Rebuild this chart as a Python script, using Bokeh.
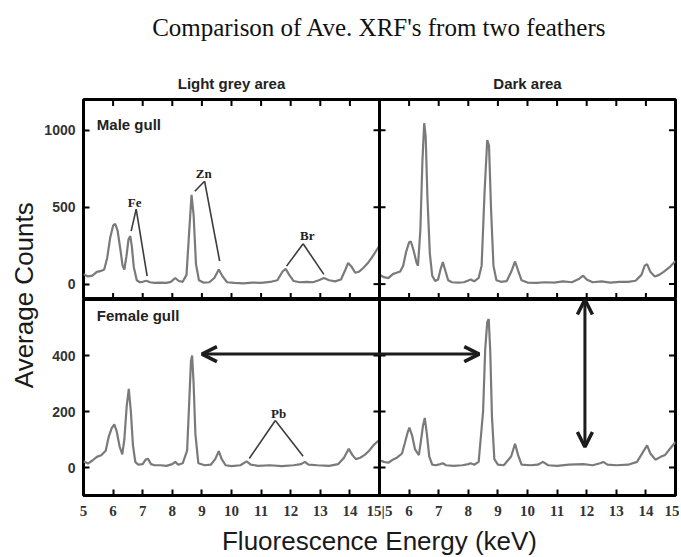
import math
from bokeh.plotting import figure
from bokeh.models import Range1d, LinearAxis, FixedTicker, Span, Arrow, OpenHead, Label
from bokeh.layouts import row, column
from bokeh.embed import file_html
from bokeh.resources import INLINE

# ---------------- data ----------------
TITLE = "Comparison of Ave. XRF's from two feathers"
COLUMN_TITLES = ["Light grey area", "Dark area"]
ROW_TITLES = ["Male gull", "Female gull"]
X_LABEL = "Fluorescence Energy (keV)"
Y_LABEL = "Average Counts"

energy_ticks = [5, 6, 7, 8, 9, 10, 11, 12, 13, 14, 15]
energy_tick_labels = ["5", "6", "7", "8", "9", "10", "11", "12", "13", "14", "15"]
male_count_ticks = [0, 500, 1000]
female_count_ticks = [0, 200, 400]

# Male gull, light grey area
male_light_x = [5.0, 5.15, 5.3, 5.45, 5.57, 5.7, 5.8, 5.9, 6.0, 6.07, 6.15, 6.25, 6.32, 6.38, 6.45,
                6.52, 6.58, 6.63, 6.7, 6.8, 6.9, 7.0, 7.12, 7.25, 7.4, 7.6, 7.8, 7.95, 8.1, 8.22,
                8.35, 8.48, 8.57, 8.65, 8.72, 8.8, 8.9, 9.05, 9.25, 9.42, 9.57, 9.7, 9.85, 10.1, 10.4,
                10.7, 11.0, 11.3, 11.55, 11.72, 11.83, 11.95, 12.1, 12.3, 12.55, 12.75, 12.95, 13.12, 13.3, 13.5,
                13.7, 13.85, 13.94, 14.05, 14.18, 14.3, 14.45, 14.6, 14.75, 14.9, 15.0]
male_light_y = [65, 50, 55, 80, 84, 95, 170, 300, 380, 392, 350, 220, 120, 95, 180,
                290, 312, 250, 110, 25, 12, 15, 22, 12, 8, 10, 8, 15, 40, 20,
                15, 60, 340, 580, 450, 130, 25, 10, 12, 40, 95, 50, 12, 8, 5,
                10, 8, 14, 25, 80, 100, 60, 20, 12, 15, 12, 25, 40, 25, 18,
                30, 95, 138, 115, 74, 80, 105, 135, 175, 220, 250]

# Male gull, dark area
male_dark_x = [5.0, 5.15, 5.3, 5.45, 5.55, 5.7, 5.8, 5.9, 6.0, 6.06, 6.15, 6.25, 6.3, 6.38, 6.45,
               6.51, 6.56, 6.62, 6.7, 6.78, 6.88, 6.98, 7.06, 7.14, 7.22, 7.32, 7.45, 7.65, 7.85, 7.98,
               8.08, 8.2, 8.35, 8.45, 8.55, 8.64, 8.7, 8.77, 8.85, 8.95, 9.1, 9.3, 9.45, 9.58, 9.68,
               9.8, 10.0, 10.3, 10.6, 10.9, 11.2, 11.5, 11.75, 11.88, 12.0, 12.2, 12.5, 12.8, 13.1, 13.4,
               13.65, 13.85, 13.96, 14.04, 14.15, 14.3, 14.45, 14.6, 14.8, 15.0]
male_dark_y = [61, 45, 39, 65, 72, 82, 120, 210, 272, 277, 220, 140, 120, 350, 800,
               1046, 960, 560, 200, 55, 20, 30, 95, 143, 90, 25, 12, 10, 12, 22,
               30, 18, 40, 120, 600, 937, 900, 480, 120, 25, 15, 20, 80, 147, 90,
               25, 10, 8, 12, 10, 18, 12, 35, 55, 30, 12, 18, 10, 14, 15,
               22, 60, 120, 130, 80, 50, 60, 80, 110, 150]

# Female gull, light grey area
female_light_x = [5.0, 5.15, 5.3, 5.45, 5.6, 5.75, 5.85, 5.95, 6.04, 6.12, 6.22, 6.31, 6.38, 6.46, 6.53,
                  6.6, 6.67, 6.75, 6.85, 7.0, 7.1, 7.18, 7.28, 7.4, 7.6, 7.8, 8.0, 8.1, 8.2, 8.35,
                  8.5, 8.57, 8.63, 8.67, 8.72, 8.78, 8.88, 9.1, 9.3, 9.45, 9.57, 9.67, 9.8, 10.0, 10.3,
                  10.51, 10.65, 10.9, 11.3, 11.7, 12.1, 12.35, 12.48, 12.6, 12.9, 13.3, 13.6, 13.8, 13.96, 14.08,
                  14.2, 14.35, 14.5, 14.65, 14.8, 15.0]
female_light_y = [22, 14, 25, 38, 44, 60, 109, 140, 154, 130, 75, 47, 100, 220, 281,
                  200, 80, 20, 10, 12, 28, 31, 12, 8, 8, 6, 12, 20, 10, 15,
                  60, 230, 380, 400, 300, 120, 15, 8, 10, 30, 58, 30, 8, 5, 8,
                  22, 10, 6, 8, 5, 8, 12, 20, 10, 8, 6, 12, 35, 67, 45,
                  30, 35, 45, 60, 80, 99]

# Female gull, dark area
female_dark_x = [5.0, 5.15, 5.3, 5.45, 5.6, 5.76, 5.85, 5.95, 6.01, 6.1, 6.2, 6.33, 6.4, 6.47, 6.53,
                 6.6, 6.68, 6.78, 6.9, 7.05, 7.14, 7.25, 7.5, 7.8, 8.0, 8.08, 8.2, 8.35, 8.5, 8.57,
                 8.64, 8.69, 8.74, 8.8, 8.88, 9.0, 9.2, 9.45, 9.58, 9.68, 9.8, 10.1, 10.35, 10.52, 10.7,
                 11.0, 11.4, 11.88, 12.2, 12.45, 12.56, 12.7, 13.0, 13.4, 13.7, 13.9, 14.04, 14.15, 14.32, 14.5,
                 14.65, 14.8, 15.0]
female_dark_y = [26, 20, 17, 28, 36, 50, 85, 125, 142, 115, 65, 44, 95, 150, 177,
                 120, 40, 10, 8, 12, 15, 8, 6, 8, 12, 15, 10, 20, 200, 420,
                 520, 530, 420, 180, 30, 10, 8, 40, 85, 45, 10, 8, 10, 20, 8,
                 6, 10, 12, 8, 15, 20, 10, 8, 10, 20, 55, 79, 50, 28, 38,
                 45, 65, 91]

# ---------------- layout / style ----------------
DARK_SHIFT = 10          # the dark-area panel sits 10 keV to the right on the shared frame
FRAME_W = 592
SPEC_COLOR = "#7a7a7a"
INK = "#1c1c1c"
CALLOUT = "#3c3c3c"
SANS = "Liberation Sans"
SERIF = "Liberation Serif"

X_LO = energy_ticks[0]
X_HI = energy_ticks[-1] + DARK_SHIFT
all_x_ticks = energy_ticks + [t + DARK_SHIFT for t in energy_ticks[1:]]
x_overrides = {t: s for t, s in zip(energy_ticks, energy_tick_labels)}
x_overrides.update({t + DARK_SHIFT: s for t, s in zip(energy_ticks[1:], energy_tick_labels[1:])})
x_overrides[energy_ticks[-1]] = energy_tick_labels[-1] + "|" + energy_tick_labels[0]
panel_centres = [(energy_ticks[0] + energy_ticks[-1]) / 2,
                 (energy_ticks[0] + energy_ticks[-1]) / 2 + DARK_SHIFT]


def edge_ticks(p, xs, ys, vertical):
    # inward tick marks on a frame edge (half of each dash is clipped by the frame)
    p.scatter(x=xs, y=ys, marker="dash", size=13, angle=math.pi / 2 if vertical else 0,
              line_color="black", line_width=2)


def make_panel(frame_h, y_lo, y_hi, count_ticks, top):
    p = figure(frame_width=FRAME_W, frame_height=frame_h,
               x_range=Range1d(X_LO, X_HI), y_range=Range1d(y_lo, y_hi),
               output_backend="svg", toolbar_location=None,
               x_axis_location=None, y_axis_location=None,
               min_border_left=43, min_border_right=4,
               min_border_top=99 if top else 0, min_border_bottom=0 if top else 58,
               background_fill_color="white", border_fill_color="white")
    p.extra_x_ranges = {"dark": Range1d(X_LO - DARK_SHIFT, X_HI - DARK_SHIFT)}
    p.outline_line_color = "black"
    p.outline_line_width = 3
    p.outline_line_alpha = 1
    p.grid.grid_line_color = None

    left = LinearAxis(ticker=FixedTicker(ticks=count_ticks))
    left.axis_line_color = None
    left.major_tick_line_color = "black"
    left.major_tick_line_width = 2
    left.major_tick_in = 6
    left.major_tick_out = 0
    left.minor_tick_line_color = None
    left.major_label_text_font = SANS
    left.major_label_text_font_style = "bold"
    left.major_label_text_font_size = "14px"
    left.major_label_text_color = "#333333"
    left.major_label_standoff = 8
    p.add_layout(left, "left")

    # right edge and divider tick marks
    edge_ticks(p, X_HI, count_ticks, vertical=False)
    p.add_layout(Span(location=energy_ticks[-1], dimension="height",
                      line_color="black", line_width=3))
    p.scatter(x=energy_ticks[-1], y=count_ticks, marker="dash", size=12,
              line_color="black", line_width=2)
    return p


def callout(p, name, label_xy, apex, ends):
    p.add_layout(Label(x=label_xy[0], y=label_xy[1], text=name, text_align="center", text_baseline="middle",
                       text_font=SERIF, text_font_style="bold", text_font_size="13px", text_color="#222222"))
    for ex, ey in ends:
        p.add_layout(Arrow(end=None, x_start=apex[0], y_start=apex[1], x_end=ex, y_end=ey,
                           line_color=CALLOUT, line_width=1.6))


# ---------------- top row: male gull ----------------
p1 = make_panel(200, -100, 1200, male_count_ticks, top=True)
edge_ticks(p1, all_x_ticks, 1200, vertical=True)
edge_ticks(p1, all_x_ticks, -100, vertical=True)

heads = LinearAxis(ticker=FixedTicker(ticks=panel_centres))
heads.major_label_overrides = {c: t for c, t in zip(panel_centres, COLUMN_TITLES)}
heads.axis_line_color = None
heads.major_tick_line_color = None
heads.major_tick_in = 0
heads.major_tick_out = 0
heads.minor_tick_line_color = None
heads.major_label_text_font = SANS
heads.major_label_text_font_style = "bold"
heads.major_label_text_font_size = "15px"
heads.major_label_text_color = "#222222"
heads.major_label_standoff = 8
heads.axis_label = TITLE
heads.axis_label_text_font = SERIF
heads.axis_label_text_font_style = "normal"
heads.axis_label_text_font_size = "25px"
heads.axis_label_text_color = "#111111"
heads.axis_label_standoff = 31
p1.add_layout(heads, "above")

p1.line(male_light_x, male_light_y, line_color=SPEC_COLOR, line_width=2.2)
p1.line(male_dark_x, male_dark_y, line_color=SPEC_COLOR, line_width=2.2, x_range_name="dark")

p1.add_layout(Label(x=5.45, y=1040, text=ROW_TITLES[0], text_align="left", text_baseline="middle",
                    text_font=SANS, text_font_style="bold", text_font_size="15px", text_color="#222222"))

callout(p1, "Fe", (6.73, 530), (6.78, 487), [(6.61, 344), (7.15, 52)])
callout(p1, "Zn", (9.06, 716), (9.09, 669), [(8.76, 604), (9.6, 149)])
callout(p1, "Br", (12.56, 314), (12.42, 262), [(11.86, 117), (13.12, 63)])

# ---------------- bottom row: female gull ----------------
p2 = make_panel(196, -100, 600, female_count_ticks, top=False)
bottom = LinearAxis(ticker=FixedTicker(ticks=all_x_ticks))
bottom.major_label_overrides = x_overrides
bottom.axis_line_color = None
bottom.major_tick_line_color = "black"
bottom.major_tick_line_width = 2
bottom.major_tick_in = 6
bottom.major_tick_out = 0
bottom.minor_tick_line_color = None
bottom.major_label_text_font = SERIF
bottom.major_label_text_font_style = "bold"
bottom.major_label_text_font_size = "15px"
bottom.major_label_text_color = "#333333"
bottom.major_label_standoff = 7
bottom.axis_label = X_LABEL
bottom.axis_label_text_font = SANS
bottom.axis_label_text_font_style = "normal"
bottom.axis_label_text_font_size = "26px"
bottom.axis_label_text_color = "#1a1a1a"
bottom.axis_label_standoff = 4
p2.add_layout(bottom, "below")

p2.line(female_light_x, female_light_y, line_color=SPEC_COLOR, line_width=2.2)
p2.line(female_dark_x, female_dark_y, line_color=SPEC_COLOR, line_width=2.2, x_range_name="dark")

p2.add_layout(Label(x=5.45, y=542, text=ROW_TITLES[1], text_align="left", text_baseline="middle",
                    text_font=SANS, text_font_style="bold", text_font_size="15px", text_color="#222222"))
callout(p2, "Pb", (11.59, 193), (11.48, 168), [(10.6, 32), (12.42, 40)])

# Zn comparison arrow (light-grey Zn peak <-> dark Zn peak), split at the divider
p2.add_layout(Arrow(end=OpenHead(size=15, line_width=3.5, line_color=INK),
                    x_start=15, y_start=405, x_end=9.0, y_end=405, line_color=INK, line_width=3))
p2.add_layout(Arrow(end=OpenHead(size=15, line_width=3.5, line_color=INK),
                    x_start=5, y_start=405, x_end=8.37, y_end=405, x_range_name="dark",
                    line_color=INK, line_width=3))
# vertical double arrow in the dark area
p2.add_layout(Arrow(start=OpenHead(size=15, line_width=3.5, line_color=INK),
                    end=OpenHead(size=15, line_width=3.5, line_color=INK),
                    x_start=11.94, y_start=73, x_end=11.94, y_end=600, x_range_name="dark",
                    line_color=INK, line_width=3))

# ---------------- shared y-axis title ----------------
pn = figure(width=40, height=553, x_range=Range1d(0, 1), y_range=Range1d(0, 1),
            output_backend="svg", toolbar_location=None,
            x_axis_location=None, y_axis_location=None, min_border=0,
            background_fill_color="white", border_fill_color="white")
pn.outline_line_color = None
pn.grid.grid_line_color = None
pn.add_layout(Label(x=0.575, y=0.467, text=Y_LABEL, angle=math.pi / 2, text_align="center",
                    text_baseline="middle", text_font=SANS, text_font_size="26px", text_color="#1a1a1a"))

layout = row(pn, column(p1, p2))
open("out.html", "w").write(file_html(layout, INLINE))
